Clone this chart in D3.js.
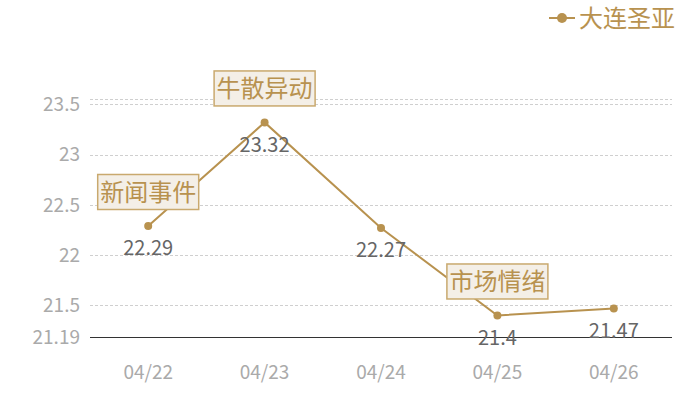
<!DOCTYPE html>
<html>
<head>
<meta charset="utf-8">
<script src="https://cdn.jsdelivr.net/npm/d3@7"></script>
<style>
  body { margin: 0; background: #fff; }
  text { font-family: "Noto Sans CJK SC", "Open Sans", sans-serif; }
</style>
</head>
<body>
<div id="content"></div>
<script>
// data
let dates = ["04/22", "04/23", "04/24", "04/25", "04/26"];
let prices = [22.29, 23.32, 22.27, 21.4, 21.47];
let seriesName = "大连圣亚";
let notes = [
    { date: "04/22", text: "新闻事件" },
    { date: "04/23", text: "牛散异动" },
    { date: "04/25", text: "市场情绪" }
];
let yTicks = [21.5, 22, 22.5, 23, 23.5];

let width = 700,
    height = 400;
let plotLeft = 90, plotRight = 672, plotTop = 99, plotBottom = 337;

let gold = "#b8924f";

let yMin = d3.min(prices) * 0.99,
    yMax = d3.max(prices) * 1.01;

let x = d3.scaleBand().domain(dates).range([plotLeft, plotRight]);
let y = d3.scaleLinear().domain([yMin, yMax]).range([plotBottom, plotTop]);

let svg = d3.select("#content")
    .append("svg")
    .attr("width", width)
    .attr("height", height);

// grid lines (ticks + top edge)
svg.append("g")
    .selectAll("line")
    .data(yTicks.concat([yMax]))
    .enter()
    .append("line")
    .attr("x1", plotLeft)
    .attr("x2", plotRight)
    .attr("y1", d => Math.round(y(d)) + 0.5)
    .attr("y2", d => Math.round(y(d)) + 0.5)
    .attr("stroke", "#cfcfcf")
    .style("stroke-dasharray", "3,2");

// y labels
svg.append("g")
    .selectAll("text")
    .data(yTicks.concat([yMin]))
    .enter()
    .append("text")
    .attr("x", 80)
    .attr("y", d => y(d))
    .attr("dy", "0.36em")
    .attr("text-anchor", "end")
    .attr("fill", "#aaa")
    .style("font-size", "19px")
    .text(d => d === yMin ? d3.format(".2f")(d) : d);

// bottom axis line
svg.append("line")
    .attr("x1", plotLeft)
    .attr("x2", plotRight)
    .attr("y1", Math.round(y(yMin)) + 0.5)
    .attr("y2", Math.round(y(yMin)) + 0.5)
    .attr("stroke", "#333");

// x labels
svg.append("g")
    .selectAll("text")
    .data(dates)
    .enter()
    .append("text")
    .attr("x", d => x(d) + x.bandwidth() / 2)
    .attr("y", 372)
    .attr("dy", "0.36em")
    .attr("text-anchor", "middle")
    .attr("fill", "#aaa")
    .style("font-size", "19px")
    .text(d => d);

let cx = (d, i) => x(dates[i]) + x.bandwidth() / 2;

// line
let line = d3.line()
    .x((d, i) => cx(d, i))
    .y(d => y(d));

svg.append("path")
    .datum(prices)
    .attr("d", line)
    .attr("fill", "none")
    .attr("stroke", gold)
    .attr("stroke-width", 2);

// points
svg.append("g")
    .selectAll("circle")
    .data(prices)
    .enter()
    .append("circle")
    .attr("cx", cx)
    .attr("cy", d => y(d))
    .attr("r", 4)
    .attr("fill", gold);

// value labels
svg.append("g")
    .selectAll("text")
    .data(prices)
    .enter()
    .append("text")
    .attr("x", cx)
    .attr("y", d => y(d) + 22)
    .attr("dy", "0.36em")
    .attr("text-anchor", "middle")
    .attr("fill", "#666")
    .style("font-size", "20px")
    .text(d => d);

// annotation boxes
let noteG = svg.append("g")
    .selectAll("g")
    .data(notes)
    .enter()
    .append("g")
    .attr("transform", d => {
        let i = dates.indexOf(d.date);
        return "translate(" + (x(d.date) + x.bandwidth() / 2) + "," + (y(prices[i]) - 34) + ")";
    });

noteG.append("rect")
    .attr("x", -50.5)
    .attr("y", -17.5)
    .attr("width", 101)
    .attr("height", 35)
    .attr("fill", "#f4efe7")
    .attr("stroke", "#c9a96e")
    .attr("stroke-width", 1.5);

noteG.append("text")
    .attr("text-anchor", "middle")
    .attr("dy", "0.36em")
    .attr("fill", "#b8924f")
    .style("font-size", "24px")
    .text(d => d.text);

// legend
let legend = svg.append("g").attr("transform", "translate(549,18)");
legend.append("line")
    .attr("x1", 0).attr("x2", 26)
    .attr("stroke", gold).attr("stroke-width", 2);
legend.append("circle")
    .attr("cx", 13).attr("r", 5)
    .attr("fill", gold);
legend.append("text")
    .attr("x", 30)
    .attr("dy", "0.36em")
    .attr("fill", "#b8924f")
    .style("font-size", "24px")
    .text(seriesName);
</script>
</body>
</html>
